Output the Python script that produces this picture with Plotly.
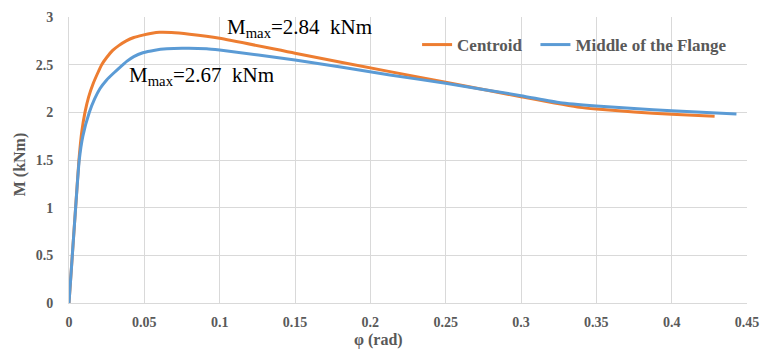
import plotly.graph_objects as go

# Moment-rotation curves (phi in rad, M in kNm)
phi_centroid = [0, 0.0022, 0.0044, 0.0066, 0.0085, 0.0106, 0.013, 0.016, 0.019, 0.0217,
                0.025, 0.029, 0.033, 0.038, 0.043, 0.049, 0.055, 0.060, 0.068, 0.080,
                0.100, 0.150, 0.213, 0.250, 0.300, 0.339, 0.350, 0.375, 0.400, 0.4285]
m_centroid = [0, 0.5, 1.0, 1.5, 1.8, 2.0, 2.16, 2.3, 2.41, 2.5,
              2.575, 2.65, 2.70, 2.75, 2.785, 2.81, 2.83, 2.84, 2.838, 2.82,
              2.777, 2.62, 2.427, 2.315, 2.164, 2.052, 2.034, 2.004, 1.979, 1.958]

phi_flange = [0, 0.0022, 0.0044, 0.0068, 0.0092, 0.0135, 0.017, 0.0206, 0.025, 0.0295,
              0.034, 0.0383, 0.043, 0.049, 0.057, 0.065, 0.075, 0.0914, 0.100, 0.150,
              0.213, 0.250, 0.300, 0.326, 0.350, 0.375, 0.400, 0.443]
m_flange = [0, 0.5, 1.0, 1.5, 1.75, 2.0, 2.14, 2.25, 2.34, 2.41,
            2.475, 2.535, 2.585, 2.625, 2.652, 2.666, 2.672, 2.668, 2.654, 2.55,
            2.392, 2.304, 2.175, 2.10, 2.066, 2.04, 2.017, 1.982]

x_ticks = [0, 0.05, 0.1, 0.15, 0.2, 0.25, 0.3, 0.35, 0.4, 0.45]
x_tick_labels = ["0", "0.05", "0.1", "0.15", "0.2", "0.25", "0.3", "0.35", "0.4", "0.45"]
y_ticks = [0, 0.5, 1, 1.5, 2, 2.5, 3]
y_tick_labels = ["0", "0.5", "1", "1.5", "2", "2.5", "3"]

series_names = ["Centroid", "Middle of the Flange"]
peak_labels = ["M<sub>max</sub>=2.84  kNm", "M<sub>max</sub>=2.67  kNm"]
x_title = "φ (rad)"
y_title = "M (kNm)"

ORANGE = "#ED7D31"
BLUE = "#5B9BD5"
GRID = "#D9D9D9"
TICK = "#595959"
SERIF = "Times New Roman, Liberation Serif, serif"

fig = go.Figure()
fig.add_trace(go.Scatter(x=phi_centroid, y=m_centroid, mode="lines",
                         name=series_names[0] + "\u2002",
                         line=dict(color=ORANGE, width=3, shape="spline", smoothing=0.5)))
fig.add_trace(go.Scatter(x=phi_flange, y=m_flange, mode="lines", name=series_names[1],
                         line=dict(color=BLUE, width=3, shape="spline", smoothing=0.5)))

fig.add_annotation(x=0.1038, y=2.885, xref="x", yref="y", text=peak_labels[0],
                   showarrow=False, xanchor="left", yanchor="middle",
                   font=dict(family=SERIF, size=21, color="#000000"))
fig.add_annotation(x=0.0388, y=2.381, xref="x", yref="y", text=peak_labels[1],
                   showarrow=False, xanchor="left", yanchor="middle",
                   font=dict(family=SERIF, size=21, color="#000000"))

# Axis titles
fig.add_annotation(x=0.456, y=-0.129, xref="paper", yref="paper", text=x_title,
                   showarrow=False, xanchor="center", yanchor="middle",
                   font=dict(family=SERIF, size=16, color=TICK, weight="bold"))
fig.add_annotation(x=-0.0723, y=0.485, xref="paper", yref="paper", text=y_title,
                   showarrow=False, xanchor="center", yanchor="middle", textangle=-90,
                   font=dict(family=SERIF, size=16, color=TICK, weight="bold"))

fig.update_layout(
    width=764, height=350,
    margin=dict(l=69, r=17, t=17, b=47),
    paper_bgcolor="white", plot_bgcolor="white",
    showlegend=True,
    legend=dict(orientation="h", x=0.978, y=0.902, xanchor="right", yanchor="middle",
                bgcolor="rgba(0,0,0,0)",
                font=dict(family=SERIF, size=17, color=TICK, weight="bold"),
                itemwidth=30, tracegroupgap=0),
    xaxis=dict(range=[0, 0.45], tickvals=x_ticks, ticktext=x_tick_labels,
               showgrid=True, gridcolor=GRID, gridwidth=1, zeroline=False,
               showline=True, linecolor=GRID, linewidth=1, mirror=False,
               ticks="", ticklen=0, ticklabelstandoff=6, automargin=False,
               tickfont=dict(family=SERIF, size=14, color=TICK, weight="bold")),
    yaxis=dict(range=[0, 3], tickvals=y_ticks, ticktext=y_tick_labels,
               showgrid=True, gridcolor=GRID, gridwidth=1, zeroline=False,
               showline=True, linecolor=GRID, linewidth=1, automargin=False,
               ticks="", ticklen=0, ticklabelstandoff=12,
               tickfont=dict(family=SERIF, size=14, color=TICK, weight="bold")),
)

fig.write_html("out.html")
